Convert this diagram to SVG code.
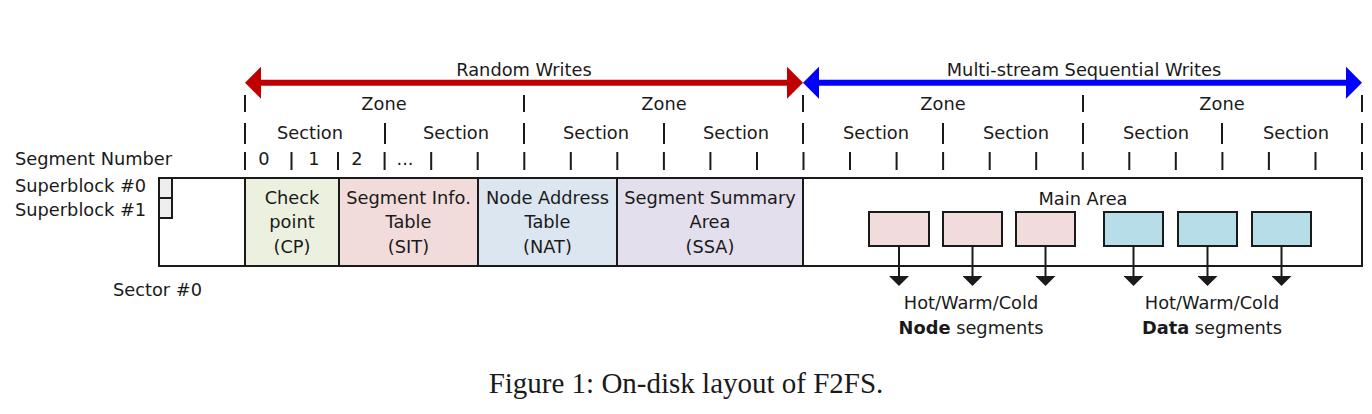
<svg xmlns="http://www.w3.org/2000/svg" width="1372" height="414" viewBox="0 0 1372 414">
<defs>
<style>
text{font-family:"DejaVu Sans","Noto Sans",sans-serif;font-size:17.8px;fill:#1a1a1a}
.m{text-anchor:middle}
.tick{stroke:#1a1a1a;stroke-width:2;fill:none}
.box{stroke:#1a1a1a;stroke-width:2}
.cap{font-family:"Liberation Serif","Times New Roman",serif;font-size:29px}
</style>
<marker id="redHead" markerUnits="userSpaceOnUse" markerWidth="16" markerHeight="32" viewBox="0 0 16 32" refX="11" refY="16" orient="auto-start-reverse"><path d="M0,0 L16,16 L0,32 z" fill="#c00000"/></marker>
<marker id="blueHead" markerUnits="userSpaceOnUse" markerWidth="16" markerHeight="32" viewBox="0 0 16 32" refX="11" refY="16" orient="auto-start-reverse"><path d="M0,0 L16,16 L0,32 z" fill="#0000ff"/></marker>
<marker id="down" markerUnits="userSpaceOnUse" markerWidth="10" markerHeight="20" viewBox="0 0 10 20" refX="2" refY="10" orient="auto"><path d="M0,0 L10,10 L0,20 z" fill="#1a1a1a"/></marker>
</defs>
<rect width="1372" height="414" fill="#ffffff"/>

<g id="arrow-labels">
<text class="m" x="524" y="76">Random Writes</text>
<text class="m" x="1084" y="76">Multi-stream Sequential Writes</text>
</g>

<g id="scale">
<path class="tick" d="M245,95V112M524,95V112M803,95V112M1083,95V112M1362,95V112"/>
<path class="tick" d="M245,123V144M385,123V144M524,123V144M664,123V144M803,123V144M943,123V144M1083,123V144M1222,123V144M1362,123V144"/>
<path class="tick" d="M245,152V170M291.5,152V170M338,152V170M384.6,152V170M431.2,152V170M477.7,152V170M524.3,152V170M570.8,152V170M617.3,152V170M663.9,152V170M710.4,152V170M757,152V170M803.5,152V170M850,152V170M896.6,152V170M943.1,152V170M989.7,152V170M1036.2,152V170M1082.8,152V170M1129.3,152V170M1175.8,152V170M1222.4,152V170M1268.9,152V170M1315.5,152V170M1362,152V170"/>
<text class="m" x="384" y="110">Zone</text>
<text class="m" x="664" y="110">Zone</text>
<text class="m" x="943" y="110">Zone</text>
<text class="m" x="1222" y="110">Zone</text>
<text class="m" x="310" y="139">Section</text>
<text class="m" x="456" y="139">Section</text>
<text class="m" x="596" y="139">Section</text>
<text class="m" x="736" y="139">Section</text>
<text class="m" x="876" y="139">Section</text>
<text class="m" x="1016" y="139">Section</text>
<text class="m" x="1156" y="139">Section</text>
<text class="m" x="1296" y="139">Section</text>
<text x="15" y="165">Segment Number</text>
<text class="m" x="264" y="165">0</text>
<text class="m" x="314" y="165">1</text>
<text class="m" x="357" y="165">2</text>
<text class="m" x="405" y="165">...</text>
</g>

<g id="superblocks">
<rect class="box" x="159" y="178" width="13" height="20" fill="#eeeeee"/>
<rect class="box" x="159" y="198" width="13" height="20" fill="#eeeeee"/>
<text x="15" y="192">Superblock #0</text>
<text x="15" y="216">Superblock #1</text>
<text x="113" y="296">Sector #0</text>
</g>

<g id="outer">
<rect class="box" x="159" y="178" width="86" height="88" fill="none"/>
</g>

<g id="cp">
<rect class="box" x="245" y="178" width="94" height="88" fill="#ebf1de"/>
<text class="m" x="292" y="203.5">Check</text>
<text class="m" x="292" y="228">point</text>
<text class="m" x="292" y="252.5">(CP)</text>
</g>

<g id="sit">
<rect class="box" x="339" y="178" width="139" height="88" fill="#f2dcdb"/>
<text class="m" x="408.5" y="203.5">Segment Info.</text>
<text class="m" x="408.5" y="228">Table</text>
<text class="m" x="408.5" y="252.5">(SIT)</text>
</g>

<g id="nat">
<rect class="box" x="478" y="178" width="139" height="88" fill="#dce6f1"/>
<text class="m" x="547.5" y="203.5">Node Address</text>
<text class="m" x="547.5" y="228">Table</text>
<text class="m" x="547.5" y="252.5">(NAT)</text>
</g>

<g id="ssa">
<rect class="box" x="617" y="178" width="186" height="88" fill="#e4dfec"/>
<text class="m" x="710" y="203.5">Segment Summary</text>
<text class="m" x="710" y="228">Area</text>
<text class="m" x="710" y="252.5">(SSA)</text>
</g>

<g id="main-area">
<rect class="box" x="803" y="178" width="559" height="88" fill="#ffffff"/>
<text class="m" x="1083" y="205">Main Area</text>
</g>

<g id="node-segments">
<rect class="box" x="869" y="212" width="60" height="34" fill="#f2dcdb"/>
<rect class="box" x="943" y="212" width="59" height="34" fill="#f2dcdb"/>
<rect class="box" x="1016" y="212" width="59" height="34" fill="#f2dcdb"/>
<text class="m" x="971" y="309">Hot/Warm/Cold</text>
<text class="m" x="971" y="334"><tspan font-weight="bold">Node</tspan> segments</text>
</g>

<g id="data-segments">
<rect class="box" x="1104" y="212" width="59" height="34" fill="#b7dde8"/>
<rect class="box" x="1178" y="212" width="59" height="34" fill="#b7dde8"/>
<rect class="box" x="1252" y="212" width="59" height="34" fill="#b7dde8"/>
<text class="m" x="1212" y="309">Hot/Warm/Cold</text>
<text class="m" x="1212" y="334"><tspan font-weight="bold">Data</tspan> segments</text>
</g>

<g id="connectors">
<line x1="250" y1="82.7" x2="798" y2="82.7" stroke="#c00000" stroke-width="6" marker-start="url(#redHead)" marker-end="url(#redHead)"/>
<line x1="808" y1="82.7" x2="1357" y2="82.7" stroke="#0000ff" stroke-width="6" marker-start="url(#blueHead)" marker-end="url(#blueHead)"/>
<g stroke="#1a1a1a" stroke-width="2" marker-end="url(#down)">
<line x1="899" y1="246" x2="899" y2="278"/>
<line x1="972.5" y1="246" x2="972.5" y2="278"/>
<line x1="1045.5" y1="246" x2="1045.5" y2="278"/>
<line x1="1133.5" y1="246" x2="1133.5" y2="278"/>
<line x1="1207.5" y1="246" x2="1207.5" y2="278"/>
<line x1="1281.5" y1="246" x2="1281.5" y2="278"/>
</g>
</g>

<text class="cap m" x="686" y="393">Figure 1: On-disk layout of F2FS.</text>
</svg>
